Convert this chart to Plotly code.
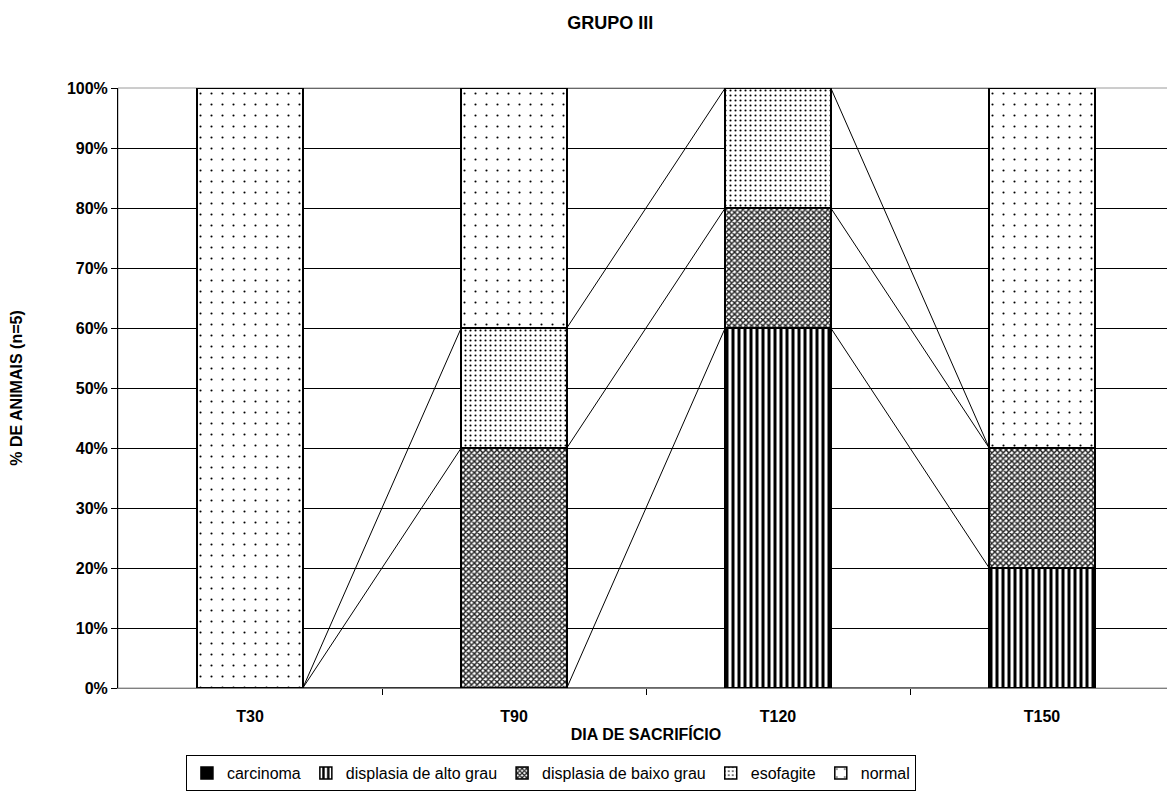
import plotly.graph_objects as go

categories = ["T30", "T90", "T120", "T150"]
series_names = ["carcinoma", "displasia de alto grau", "displasia de baixo grau", "esofagite", "normal"]
carcinoma = [0.0, 0.0, 0.0, 0.0]
displasia_alto = [0.0, 0.0, 0.6, 0.2]
displasia_baixo = [0.0, 0.4, 0.2, 0.2]
esofagite = [0.0, 0.2, 0.2, 0.0]
normal = [1.0, 0.4, 0.0, 0.6]
y_ticks = [i / 10 for i in range(11)]

values = [carcinoma, displasia_alto, displasia_baixo, esofagite, normal]
patterns = [
    dict(shape="", fillmode="replace"),
    dict(shape="|", size=6, solidity=0.5, fgcolor="black", bgcolor="white", fillmode="replace"),
    dict(shape="x", size=4, solidity=0.6, fgcolor="#222222", bgcolor="white", fillmode="replace"),
    dict(shape=".", size=5, solidity=0.14, fgcolor="black", bgcolor="white", fillmode="replace"),
    dict(shape=".", size=11, solidity=0.03, fgcolor="black", bgcolor="white", fillmode="replace"),
]
colors = ["black", "white", "white", "white", "white"]

FONT = "Liberation Sans, Arial, sans-serif"
xpos = list(range(len(categories)))
bar_w = 0.4

fig = go.Figure()
for name, vals, pat, col in zip(series_names, values, patterns, colors):
    fig.add_trace(go.Bar(
        x=xpos, y=vals, name=name, width=bar_w,
        marker=dict(color=col, pattern=pat, line=dict(color="black", width=1.5)),
    ))

# series lines (Excel-style) connecting tops of each series between adjacent bars
cum = []
running = [0.0] * len(categories)
for vals in values:
    running = [r + v for r, v in zip(running, vals)]
    cum.append(list(running))
lx, ly = [], []
for tops in cum:
    for i in range(len(categories) - 1):
        lx += [xpos[i] + bar_w / 2, xpos[i + 1] - bar_w / 2, None]
        ly += [tops[i], tops[i + 1], None]
fig.add_trace(go.Scatter(x=lx, y=ly, mode="lines", line=dict(color="black", width=1),
                         showlegend=False, hoverinfo="skip"))

fig.update_layout(
    barmode="stack",
    width=1167, height=795,
    paper_bgcolor="white", plot_bgcolor="white",
    margin=dict(l=110, r=1, t=80, b=115),
    font=dict(family=FONT, color="black", size=16),
    title=dict(text="GRUPO III", x=0.516, xanchor="center", y=0.982, yanchor="middle",
               font=dict(family=FONT, size=18, weight="bold")),
    showlegend=True,
    legend=dict(orientation="h", x=0.41, xanchor="center", y=-0.112, yanchor="top",
                bordercolor="black", borderwidth=1, traceorder="normal",
                font=dict(family=FONT, size=16), itemwidth=30),
)
fig.update_xaxes(
    range=[-0.5, len(categories) - 0.5],
    tickvals=xpos, ticktext=categories, ticks="",
    tickfont=dict(family=FONT, size=16, weight="bold"),
    ticklabelstandoff=14,
    showgrid=False, zeroline=False,
    showline=True, linecolor="#808080", linewidth=1,
    minor=dict(tickvals=[i + 0.5 for i in xpos[:-1]], ticks="outside", ticklen=6,
               tickcolor="black", showgrid=False),
    title=dict(text="DIA DE SACRIFÍCIO", font=dict(family=FONT, size=16, weight="bold"), standoff=4),
)
fig.update_yaxes(
    range=[0, 1], tickvals=y_ticks, tickformat=".0%",
    tickfont=dict(family=FONT, size=16, weight="bold"),
    ticks="outside", ticklen=6, tickcolor="black",
    showgrid=True, gridcolor="black", gridwidth=1,
    zeroline=False, showline=True, linecolor="black", linewidth=1,
    title=dict(text="% DE ANIMAIS (n=5)", font=dict(family=FONT, size=16, weight="bold"), standoff=40),
)
fig.add_shape(type="rect", xref="paper", yref="paper", x0=0, x1=1, y0=0, y1=1,
              line=dict(color="#9a9a9a", width=1), layer="below")

fig.write_html("out.html")
